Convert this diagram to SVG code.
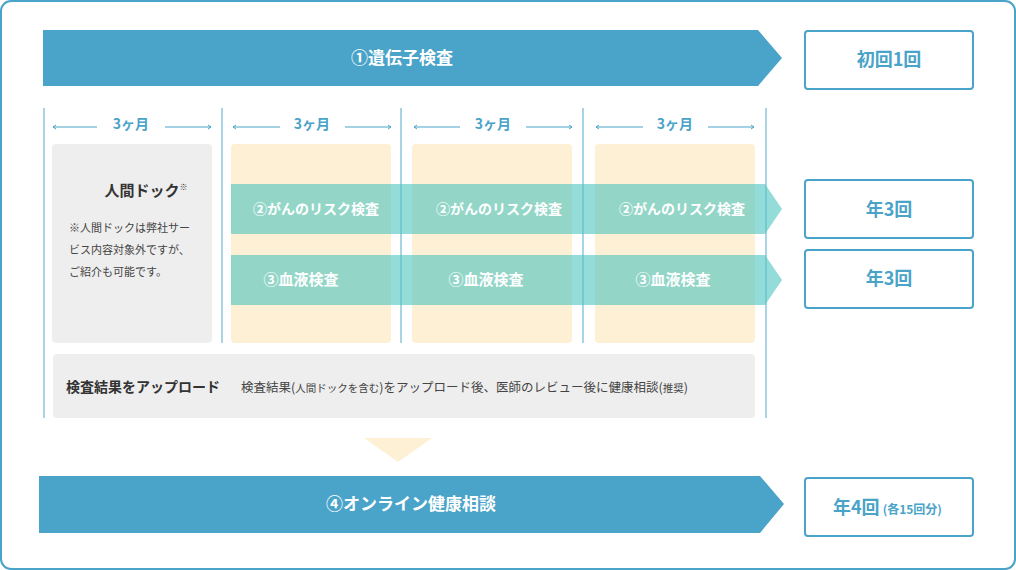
<svg xmlns="http://www.w3.org/2000/svg" width="1016" height="570" viewBox="0 0 1016 570">
<style>
text{font-family:"Noto Sans CJK JP","Noto Sans",sans-serif}
.wt{fill:#fff;font-weight:bold;font-size:17px}
.bt{fill:#4aa3c8;font-weight:bold;font-size:18px;text-anchor:middle}
.box{fill:#fff;stroke:#4aa3c8;stroke-width:2}
.vl{stroke:#a8d4e6;stroke-width:2}
.cr{fill:#fdf0d5}
.band{fill:#4dc4c0;opacity:0.6}
.mo{fill:#4aa3c8;font-weight:bold;font-size:14px;text-anchor:middle}
.ar{stroke:#4aa3c8;stroke-width:1;fill:none}
</style>
<rect x="1" y="1" width="1014" height="568" rx="10" fill="#fff" stroke="#4aa3c8" stroke-width="2"/>
<g id="n1"><polygon points="43,30 758,30 782,58 758,86 43,86" fill="#4aa3c8"/><text x="402" y="64" class="wt" text-anchor="middle">①遺伝子検査</text></g>
<g id="b1"><rect class="box" x="805" y="31" width="168" height="58" rx="3"/><text x="889" y="66" class="bt">初回1回</text></g>
<g id="grid">
<line class="vl" x1="44" y1="108" x2="44" y2="418"/><line class="vl" x1="222" y1="108" x2="222" y2="343"/><line class="vl" x1="401" y1="108" x2="401" y2="343"/><line class="vl" x1="583" y1="108" x2="583" y2="343"/><line class="vl" x1="766" y1="108" x2="766" y2="418"/>
<rect x="52" y="144" width="160" height="199" rx="4" fill="#eee"/>
<rect class="cr" x="231" y="144" width="160" height="199" rx="4"/>
<rect class="cr" x="412" y="144" width="160" height="199" rx="4"/>
<rect class="cr" x="595" y="144" width="160" height="199" rx="4"/>
</g>
<g id="months">
<path class="ar" d="M53,127H97M53,127l3,-2M53,127l3,2M165,127H211M211,127l-3,-2M211,127l-3,2"/><text x="131" y="129" class="mo">3ヶ月</text>
<path class="ar" d="M233,127H280M233,127l3,-2M233,127l3,2M345,127H391M391,127l-3,-2M391,127l-3,2"/><text x="312" y="129" class="mo">3ヶ月</text>
<path class="ar" d="M414,127H460M414,127l3,-2M414,127l3,2M526,127H572M572,127l-3,-2M572,127l-3,2"/><text x="493" y="129" class="mo">3ヶ月</text>
<path class="ar" d="M596,127H643M596,127l3,-2M596,127l3,2M708,127H754M754,127l-3,-2M754,127l-3,2"/><text x="675" y="129" class="mo">3ヶ月</text>
</g>
<g id="dock">
<text x="146" y="196" font-size="15" font-weight="bold" fill="#333" text-anchor="middle">人間ドック<tspan font-size="8" dy="-6">※</tspan></text>
<text font-size="11" fill="#444"><tspan x="69" y="232">※人間ドックは弊社サー</tspan><tspan x="69" y="254">ビス内容対象外ですが、</tspan><tspan x="69" y="276">ご紹介も可能です。</tspan></text>
</g>
<g id="n2"><polygon class="band" points="231,184 765,184 782,209 765,234 231,234"/>
<text x="316" y="214" fill="#fff" font-size="14" font-weight="bold" text-anchor="middle">②がんのリスク検査</text>
<text x="499" y="214" fill="#fff" font-size="14" font-weight="bold" text-anchor="middle">②がんのリスク検査</text>
<text x="682" y="214" fill="#fff" font-size="14" font-weight="bold" text-anchor="middle">②がんのリスク検査</text></g>
<g id="n3"><polygon class="band" points="231,255 765,255 782,280 765,305 231,305"/>
<text x="301" y="285" fill="#fff" font-size="15" font-weight="bold" text-anchor="middle">③血液検査</text>
<text x="486" y="285" fill="#fff" font-size="15" font-weight="bold" text-anchor="middle">③血液検査</text>
<text x="673" y="285" fill="#fff" font-size="15" font-weight="bold" text-anchor="middle">③血液検査</text></g>
<g id="b2"><rect class="box" x="805" y="180" width="168" height="58" rx="3"/><text x="889" y="216" class="bt">年3回</text></g>
<g id="b3"><rect class="box" x="805" y="250" width="168" height="58" rx="3"/><text x="889" y="285" class="bt">年3回</text></g>
<g id="upload"><rect x="53" y="354" width="702" height="64" rx="4" fill="#eee"/>
<text x="66" y="392" font-size="14" font-weight="bold" fill="#333">検査結果をアップロード</text>
<text x="241" y="392" font-size="12.5" fill="#444">検査結果(<tspan font-size="10.5">人間ドックを含む</tspan>)をアップロード後、医師のレビュー後に健康相談(<tspan font-size="10.5">推奨</tspan>)</text></g>
<g id="conn"><polygon points="364,438 432,438 398,462" fill="#fdf0d5"/></g>
<g id="n4"><polygon points="39,476 760,476 784,504 760,533 39,533" fill="#4aa3c8"/><text x="411" y="510" class="wt" text-anchor="middle">④オンライン健康相談</text></g>
<g id="b4"><rect class="box" x="805" y="478" width="168" height="58" rx="3"/><text x="833" y="514" fill="#4aa3c8" font-weight="bold" font-size="18">年4回<tspan font-size="12" dx="3">(各15回分)</tspan></text></g>
</svg>
